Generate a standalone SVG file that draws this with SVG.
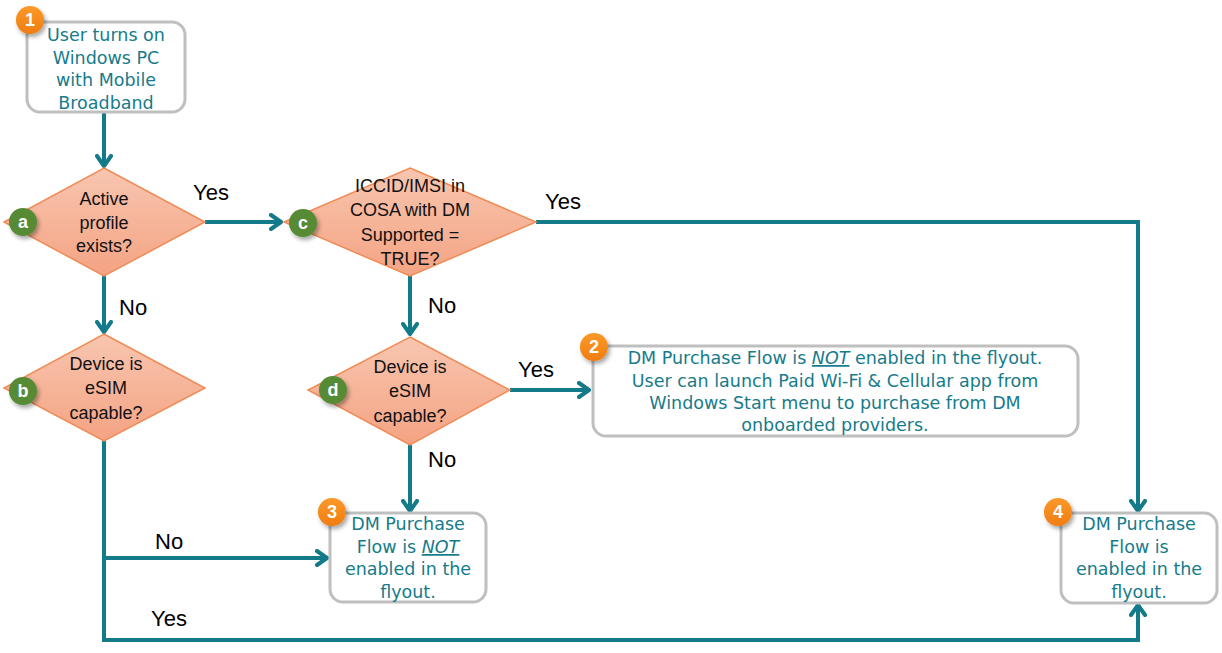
<svg xmlns="http://www.w3.org/2000/svg" width="1222" height="653" viewBox="0 0 1222 653">
<defs>
<linearGradient id="dg" x1="0" y1="0" x2="0" y2="1">
<stop offset="0" stop-color="#f8c6b0"/>
<stop offset="1" stop-color="#f4a383"/>
</linearGradient>
<linearGradient id="og" x1="0" y1="0" x2="0" y2="1">
<stop offset="0" stop-color="#fa9a2a"/>
<stop offset="1" stop-color="#f07c10"/>
</linearGradient>
<filter id="sh" x="-50%" y="-50%" width="200%" height="200%">
<feDropShadow dx="2" dy="3" stdDeviation="2" flood-color="#000" flood-opacity="0.35"/>
</filter>
<marker id="ah" viewBox="0 0 14 18" refX="12" refY="9" markerWidth="14" markerHeight="18" markerUnits="userSpaceOnUse" orient="auto">
<path d="M2,2 L12,9 L2,16" fill="none" stroke="#137a89" stroke-width="4" stroke-linecap="round" stroke-linejoin="round"/>
</marker>
<style>
.box{fill:#fff;stroke:#bfbfbf;stroke-width:3}
.dia{fill:url(#dg);stroke:#ef8b55;stroke-width:1.5}
.bt{font-family:"DejaVu Sans",Verdana,sans-serif;font-size:17.5px;fill:#167b8b;text-anchor:middle}
.dt{font-family:"Liberation Sans",Arial,sans-serif;font-size:18px;fill:#111;text-anchor:middle}
.lb{font-family:"Liberation Sans",Arial,sans-serif;font-size:22px;fill:#000}
.con{fill:none;stroke:#137a89;stroke-width:4}
.ob{fill:url(#og);filter:url(#sh)}
.gb{fill:#568a35;filter:url(#sh)}
.bn{font-family:"Liberation Sans",Arial,sans-serif;font-size:18px;font-weight:bold;fill:#fff;text-anchor:middle}
.nt{font-style:italic;text-decoration:underline}
</style>
</defs>

<g id="connectors">
<line class="con" x1="104" y1="112" x2="104" y2="166" marker-end="url(#ah)"/>
<line class="con" x1="205" y1="222" x2="281" y2="222" marker-end="url(#ah)"/>
<polyline class="con" points="536,222 1138,222 1138,511" marker-end="url(#ah)"/>
<line class="con" x1="410" y1="276" x2="410" y2="334" marker-end="url(#ah)"/>
<line class="con" x1="510" y1="390" x2="589" y2="390" marker-end="url(#ah)"/>
<line class="con" x1="410" y1="445" x2="410" y2="511" marker-end="url(#ah)"/>
<line class="con" x1="104" y1="276" x2="104" y2="332" marker-end="url(#ah)"/>
<polyline class="con" points="104,441 104,640 1138,640 1138,605" marker-end="url(#ah)"/>
<line class="con" x1="104" y1="558" x2="327" y2="558" marker-end="url(#ah)"/>
<text class="lb" x="193" y="200">Yes</text>
<text class="lb" x="545" y="209">Yes</text>
<text class="lb" x="428" y="313">No</text>
<text class="lb" x="518" y="377">Yes</text>
<text class="lb" x="428" y="467">No</text>
<text class="lb" x="119" y="315">No</text>
<text class="lb" x="155" y="549">No</text>
<text class="lb" x="151" y="626">Yes</text>
</g>

<g id="node1">
<rect class="box" x="27" y="22" width="158" height="90" rx="13"/>
<text class="bt" x="106" y="41">User turns on</text>
<text class="bt" x="106" y="64">Windows PC</text>
<text class="bt" x="106" y="86">with Mobile</text>
<text class="bt" x="106" y="109">Broadband</text>
<circle class="ob" cx="30" cy="20" r="14"/>
<text class="bn" x="30" y="26">1</text>
</g>

<g id="nodeA">
<polygon class="dia" points="104,168 205,222 104,276 4,222"/>
<text class="dt" x="104" y="205">Active</text>
<text class="dt" x="104" y="229">profile</text>
<text class="dt" x="104" y="252">exists?</text>
<circle class="gb" cx="23" cy="222" r="14"/>
<text class="bn" x="23" y="228">a</text>
</g>

<g id="nodeC">
<polygon class="dia" points="410,168 536,222 410,276 284,222"/>
<text class="dt" x="410" y="192">ICCID/IMSI in</text>
<text class="dt" x="410" y="216">COSA with DM</text>
<text class="dt" x="410" y="241">Supported =</text>
<text class="dt" x="410" y="265">TRUE?</text>
<circle class="gb" cx="303" cy="223" r="14"/>
<text class="bn" x="303" y="229">c</text>
</g>

<g id="nodeB">
<polygon class="dia" points="104,334 205,388 104,441 4,388"/>
<text class="dt" x="106" y="370">Device is</text>
<text class="dt" x="106" y="394">eSIM</text>
<text class="dt" x="106" y="419">capable?</text>
<circle class="gb" cx="23" cy="391" r="14"/>
<text class="bn" x="23" y="397">b</text>
</g>

<g id="nodeD">
<polygon class="dia" points="410,337 510,390 410,445 308,390"/>
<text class="dt" x="410" y="373">Device is</text>
<text class="dt" x="410" y="397">eSIM</text>
<text class="dt" x="410" y="422">capable?</text>
<circle class="gb" cx="333" cy="390" r="14"/>
<text class="bn" x="333" y="396">d</text>
</g>

<g id="node2">
<rect class="box" x="593" y="346" width="485" height="90" rx="13"/>
<text class="bt" x="835" y="364">DM Purchase Flow is <tspan class="nt">NOT</tspan> enabled in the flyout.</text>
<text class="bt" x="835" y="387">User can launch Paid Wi-Fi &amp; Cellular app from</text>
<text class="bt" x="835" y="409">Windows Start menu to purchase from DM</text>
<text class="bt" x="835" y="431">onboarded providers.</text>
<circle class="ob" cx="594" cy="347" r="14"/>
<text class="bn" x="594" y="353">2</text>
</g>

<g id="node3">
<rect class="box" x="330" y="513" width="156" height="89" rx="13"/>
<text class="bt" x="408" y="530">DM Purchase</text>
<text class="bt" x="408" y="553">Flow is <tspan class="nt">NOT</tspan></text>
<text class="bt" x="408" y="575">enabled in the</text>
<text class="bt" x="408" y="598">flyout.</text>
<circle class="ob" cx="332" cy="512" r="14"/>
<text class="bn" x="332" y="518">3</text>
</g>

<g id="node4">
<rect class="box" x="1061" y="513" width="156" height="90" rx="13"/>
<text class="bt" x="1139" y="530">DM Purchase</text>
<text class="bt" x="1139" y="553">Flow is</text>
<text class="bt" x="1139" y="575">enabled in the</text>
<text class="bt" x="1139" y="598">flyout.</text>
<circle class="ob" cx="1058" cy="512" r="14"/>
<text class="bn" x="1058" y="518">4</text>
</g>
</svg>
